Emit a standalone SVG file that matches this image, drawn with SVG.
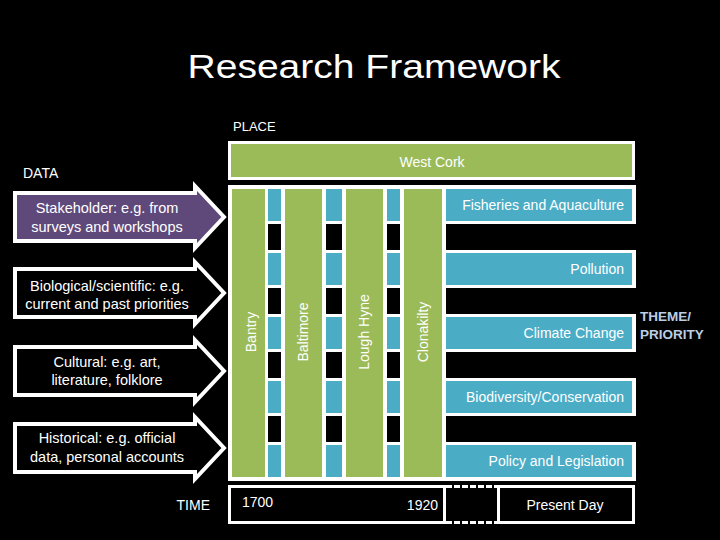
<svg xmlns="http://www.w3.org/2000/svg" width="720" height="540" viewBox="0 0 720 540">
<style>
text{font-family:"Liberation Sans",Arial,sans-serif;fill:#fff;font-size:14px}
.title{font-size:34px}
.small{font-size:13px}
.lbl{font-size:14.5px}
.mid{text-anchor:middle}
.end{text-anchor:end}
.arrow{stroke:#fff;stroke-width:4;stroke-linejoin:miter}
.blue{fill:#4BACC6}
.green{fill:#9BBB59}
.wh{fill:#fff}
.gap{fill:#000}
.box{fill:#000;stroke:#fff;stroke-width:3}
.dash{stroke:#fff;stroke-width:3;stroke-dasharray:6 2;fill:none}
.theme{fill:#B9CDE5;font-weight:bold;font-size:13.5px}
</style>
<rect width="720" height="540" fill="#000"/>
<text x="374" y="78" class="title mid" textLength="373" lengthAdjust="spacingAndGlyphs">Research Framework</text>
<text x="233" y="131" class="small">PLACE</text>
<text x="23" y="178">DATA</text>

<g id="west-cork">
<rect x="229.5" y="142.5" width="404" height="36" class="green" stroke="#fff" stroke-width="3"/>
<text x="432" y="167" class="mid">West Cork</text>
</g>

<g id="grid">
<rect x="228" y="185" width="408" height="296" class="wh"/>
<rect x="268" y="224" width="372" height="26" class="gap"/>
<rect x="268" y="288" width="372" height="26" class="gap"/>
<rect x="268" y="352" width="372" height="26" class="gap"/>
<rect x="268" y="416" width="372" height="26" class="gap"/>
<g id="themes">
<rect x="268" y="189" width="364" height="32" class="blue"/>
<rect x="268" y="253" width="364" height="32" class="blue"/>
<rect x="268" y="317" width="364" height="32" class="blue"/>
<rect x="268" y="381" width="364" height="32" class="blue"/>
<rect x="268" y="445" width="364" height="32" class="blue"/>
</g>
<g id="col-bantry">
<rect x="228" y="185" width="40" height="296" class="wh"/>
<rect x="232" y="189" width="33" height="288" class="green"/>
<text transform="translate(255.5,332) rotate(-90)" class="mid">Bantry</text>
</g>
<g id="col-baltimore">
<rect x="281" y="185" width="45" height="296" class="wh"/>
<rect x="285" y="189" width="37" height="288" class="green"/>
<text transform="translate(308,332) rotate(-90)" class="mid">Baltimore</text>
</g>
<g id="col-lough-hyne">
<rect x="342" y="185" width="45" height="296" class="wh"/>
<rect x="346" y="189" width="37" height="288" class="green"/>
<text transform="translate(368.5,332) rotate(-90)" class="mid">Lough Hyne</text>
</g>
<g id="col-clonakilty">
<rect x="400" y="185" width="46" height="296" class="wh"/>
<rect x="404" y="189" width="38" height="288" class="green"/>
<text transform="translate(427.5,332) rotate(-90)" class="mid">Clonakilty</text>
</g>
<g id="theme-labels">
<text x="624" y="210" class="end">Fisheries and Aquaculture</text>
<text x="624" y="274" class="end">Pollution</text>
<text x="624" y="338" class="end">Climate Change</text>
<text x="624" y="402" class="end">Biodiversity/Conservation</text>
<text x="624" y="466" class="end">Policy and Legislation</text>
</g>
</g>

<g id="theme-priority">
<text x="640" y="321" class="theme">THEME/</text>
<text x="640" y="339" class="theme">PRIORITY</text>
</g>

<g id="arrow-stakeholder">
<path class="arrow" fill="#5F497A" d="M15 193 H195 V186 L224 217 L195 248 V241 H15 Z"/>
<text x="107" y="213" class="lbl mid">Stakeholder: e.g. from</text>
<text x="107" y="232" class="lbl mid">surveys and workshops</text>
</g>
<g id="arrow-biological">
<path class="arrow" fill="#000" d="M15 269 H195 V262 L224 293 L195 324 V317 H15 Z"/>
<text x="107" y="291" class="lbl mid">Biological/scientific: e.g.</text>
<text x="107" y="309" class="lbl mid">current and past priorities</text>
</g>
<g id="arrow-cultural">
<path class="arrow" fill="#000" d="M15 347 H195 V340 L224 371 L195 402 V395 H15 Z"/>
<text x="107" y="367" class="lbl mid">Cultural: e.g. art,</text>
<text x="107" y="385" class="lbl mid">literature, folklore</text>
</g>
<g id="arrow-historical">
<path class="arrow" fill="#000" d="M15 424 H195 V417 L224 448 L195 479 V472 H15 Z"/>
<text x="107" y="443" class="lbl mid">Historical: e.g. official</text>
<text x="107" y="462" class="lbl mid">data, personal accounts</text>
</g>

<g id="timeline">
<text x="210" y="510" class="end">TIME</text>
<rect x="229.5" y="486.5" width="215" height="36" class="box"/>
<text x="242" y="507">1700</text>
<text x="438" y="510" class="end">1920</text>
<line x1="446" y1="486.5" x2="497" y2="486.5" class="dash"/>
<line x1="446" y1="522.5" x2="497" y2="522.5" class="dash"/>
<rect x="498.5" y="486.5" width="135" height="36" class="box"/>
<text x="565" y="510" class="mid">Present Day</text>
</g>
</svg>
